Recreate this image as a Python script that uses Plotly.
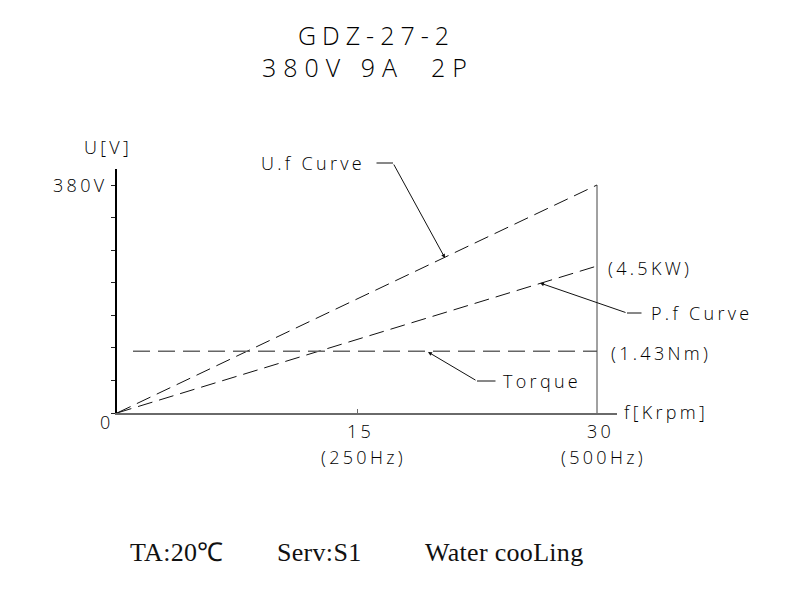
import plotly.graph_objects as go

# ---------------- data ----------------
speed_krpm = [0, 30]            # f [Krpm]
voltage_v = [0, 380]            # U.f curve
power_curve = [0, 245]          # P.f curve (scaled to the U axis), 4.5 kW at 30 Krpm
torque_speed = [1, 30]
torque_level = [103, 103]       # 1.43 Nm (scaled)
rated_line_u = [-3, 380]        # vertical line at 30 Krpm
y_tick_vals = [380 * k / 7 for k in range(8)]
x_tick_vals = [15, 30]
x_tick_labels = ["15", "30"]
hz_labels = ["(250Hz)", "(500Hz)"]
title_lines = ["GDZ-27-2", "380V\u00a09A\u00a0\u00a02P"]
footer_texts = ["TA:20\u2103", "Serv:S1", "Water cooLing"]

# ---------------- layout helpers (pixel -> paper coords) ----------------
L, T, W, H = 117, 169, 500, 244
PXU = 16.0


def px2p(px):
    return (px - L) / W


def py2p(py):
    return (T + H - py) / H


SANS = "Open Sans"
INK = "#000000"


def sp(t, ls):
    return f'<span style="letter-spacing:{ls}px">{t}</span>'


fig = go.Figure()
fig.add_trace(go.Scatter(x=speed_krpm, y=voltage_v, mode="lines",
                         line=dict(color="#111", width=1, dash="15px,7px"),
                         hoverinfo="skip"))
fig.add_trace(go.Scatter(x=speed_krpm, y=power_curve, mode="lines",
                         line=dict(color="#111", width=1, dash="15px,7px"),
                         hoverinfo="skip"))
fig.add_trace(go.Scatter(x=torque_speed, y=torque_level, mode="lines",
                         line=dict(color="#666", width=1.5, dash="17px,8px"),
                         hoverinfo="skip"))
fig.add_trace(go.Scatter(x=[speed_krpm[1], speed_krpm[1]], y=rated_line_u, mode="lines",
                         line=dict(color="#444", width=1), hoverinfo="skip",
                         cliponaxis=False))

ann = []
lab = dict(family=SANS, size=18, color=INK, weight=300)


def text(t, px, py, xa="center", ya="middle", font=lab, ls=3.3):
    ann.append(dict(x=px2p(px), y=py2p(py), xref="paper", yref="paper", text=sp(t, ls),
                    showarrow=False, xanchor=xa, yanchor=ya, font=font))


def seg(p1, p2, head=0):
    # arrow from p1 (tail) to p2 (head), pixel positions
    ann.append(dict(x=px2p(p2[0]), y=py2p(p2[1]), ax=p1[0] - p2[0], ay=p1[1] - p2[1],
                    xref="paper", yref="paper", axref="pixel", ayref="pixel", text="",
                    showarrow=True, arrowhead=head, arrowsize=0.8,
                    arrowwidth=1, arrowcolor="#111", standoff=0, startstandoff=0))


# axis labels
text("U[V]", 134, 147, xa="right")
text("380V", 109, 185, xa="right")
text("0", 107, 422)
text("f[Krpm]", 622, 412, xa="left")
for v, l, h in zip(x_tick_vals, x_tick_labels, hz_labels):
    pxv = L + v * PXU
    text(l, pxv + 3, 431)
    text(h, pxv + 6, 457)

# right-side values
text("(4.5KW)", 606, 268, xa="left")
text("(1.43Nm)", 609, 353, xa="left")

# U.f curve leader
text("U.f Curve", 259, 163, xa="left")
seg((375, 163), (393, 163))
seg((393, 163), (445, 258), head=2)

# P.f curve leader
text("P.f Curve", 649, 313, xa="left")
seg((643, 313), (627, 313))
seg((627, 313), (540, 283), head=2)

# Torque leader
text("Torque", 501, 381, xa="left")
seg((497, 381), (477, 381))
seg((477, 381), (428, 352), head=2)

# title
tfont = dict(family=SANS, size=25, color="#000", weight=300)
text(title_lines[0], 376, 35, font=tfont, ls=6)
text(title_lines[1], 368, 67, font=tfont, ls=7)

# footer
ffont = dict(family="Liberation Serif", size=26, color="#111")
for t, px in zip(footer_texts, [128, 275, 423]):
    text(t, px, 552, xa="left", font=ffont, ls=0.3)

fig.update_layout(
    width=805, height=601,
    margin=dict(l=L, r=805 - L - W, t=T, b=601 - T - H),
    paper_bgcolor="white", plot_bgcolor="white",
    showlegend=False,
    annotations=ann,
    xaxis=dict(range=[0, W / PXU], showgrid=False, zeroline=False,
               showline=True, linecolor="#6a6a6a", linewidth=1.5,
               tickvals=[x_tick_vals[0]], ticks="inside", ticklen=4,
               tickcolor="#6a6a6a", showticklabels=False, fixedrange=True),
    yaxis=dict(range=[0, 380 * H / 228], showgrid=False, zeroline=False,
               showline=True, linecolor="#000", linewidth=1.5,
               tickvals=y_tick_vals, ticks="outside", ticklen=4,
               tickcolor="#222", showticklabels=False, fixedrange=True),
)

fig.write_html("out.html", config={"displayModeBar": False},
               post_script="document.body.style.margin='0';")
